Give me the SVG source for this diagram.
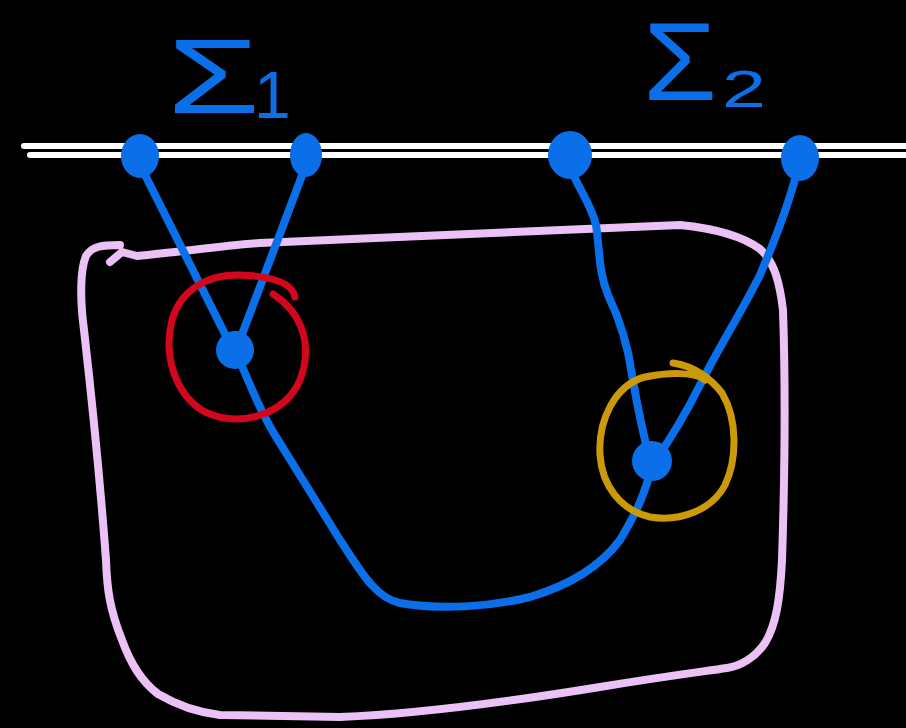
<svg xmlns="http://www.w3.org/2000/svg" width="906" height="728" viewBox="0 0 906 728">
<style>
.ink{fill:none;stroke-linecap:round;stroke-linejoin:round}
.blue{stroke:#0a6fe8;stroke-width:8}
.dot{fill:#0a6fe8}
.lbl{font-family:"Liberation Sans",Arial,sans-serif;fill:#0a6fe8}
</style>
<rect width="906" height="728" fill="#000"/>
<g id="boundary">
<path class="ink" stroke="#ffffff" stroke-width="6" d="M24,146 L906,146"/>
<path class="ink" stroke="#ffffff" stroke-width="6" d="M30,155 L906,155"/>
</g>
<g id="region" >
<path class="ink" stroke="#ecc2f6" stroke-width="8" d="M110,262 L122,252 L137,256 C180,252 220,246 260,243 C400,237 560,230 680,225 C720,229 745,238 760,249 C775,262 780,285 783,310 C786,400 784,500 782,560 C780,600 776,625 765,643 C755,658 740,666 727,668 C700,672 667,676 600,687 C520,700 420,714 340,717 L220,715 C195,712 175,704 158,694 C140,680 130,662 122,640 C110,610 107,590 106,560 C100,480 92,400 84,330 C80,300 80,270 86,256 C92,246 102,245 120,245"/>
</g>
<g id="connectors">
<path class="ink blue" d="M140,165 L232,348"/>
<path class="ink blue" d="M306,165 L238,345"/>
<path class="ink blue" d="M236,352 C250,385 262,415 278,440 C300,475 318,505 340,540 C360,570 375,598 400,603 C440,610 490,607 530,597 C570,585 600,567 620,540 C635,515 645,495 652,465"/>
<path class="ink blue" d="M570,165 C575,185 590,200 596,225 C600,250 598,270 608,295 C620,320 628,345 632,375 C638,410 642,430 650,460"/>
<path class="ink blue" d="M798,168 C790,200 775,240 760,275 C740,315 720,345 700,385 C685,415 670,440 654,462"/>
</g>
<g id="node-s1a"><ellipse class="dot" cx="140" cy="156" rx="19" ry="22"/></g>
<g id="node-s1b"><ellipse class="dot" cx="306" cy="155" rx="16" ry="22"/></g>
<g id="node-s2a"><ellipse class="dot" cx="570" cy="155" rx="22" ry="24"/></g>
<g id="node-s2b"><ellipse class="dot" cx="800" cy="158" rx="19" ry="23"/></g>
<g id="node-v1"><circle class="dot" cx="235" cy="350" r="19"/></g>
<g id="node-v2"><circle class="dot" cx="652" cy="461" r="20"/></g>
<g id="mark-red">
<path class="ink" stroke="#d2061c" stroke-width="7" d="M295,297 C292,282 270,276 240,275 C205,274 180,292 172,320 C163,355 175,395 205,412 C240,428 285,415 300,380 C312,348 305,315 273,294"/>
</g>
<g id="mark-gold">
<path class="ink" stroke="#cc9a08" stroke-width="7" d="M673,363 C695,366 712,380 722,393 C738,420 737,460 725,485 C712,510 680,522 650,517 C620,510 602,485 600,455 C598,420 615,385 645,377 C670,372 695,372 705,380"/>
</g>
<g id="label-s1">
<text class="lbl" x="167" y="113" font-size="106" textLength="93" lengthAdjust="spacingAndGlyphs">Σ</text>
<text class="lbl" x="254" y="118" font-size="66">1</text>
</g>
<g id="label-s2">
<text class="lbl" x="643" y="100" font-size="112" textLength="74" lengthAdjust="spacingAndGlyphs">Σ</text>
<text class="lbl" x="722" y="107" font-size="52" textLength="44" lengthAdjust="spacingAndGlyphs">2</text>
</g>
</svg>
